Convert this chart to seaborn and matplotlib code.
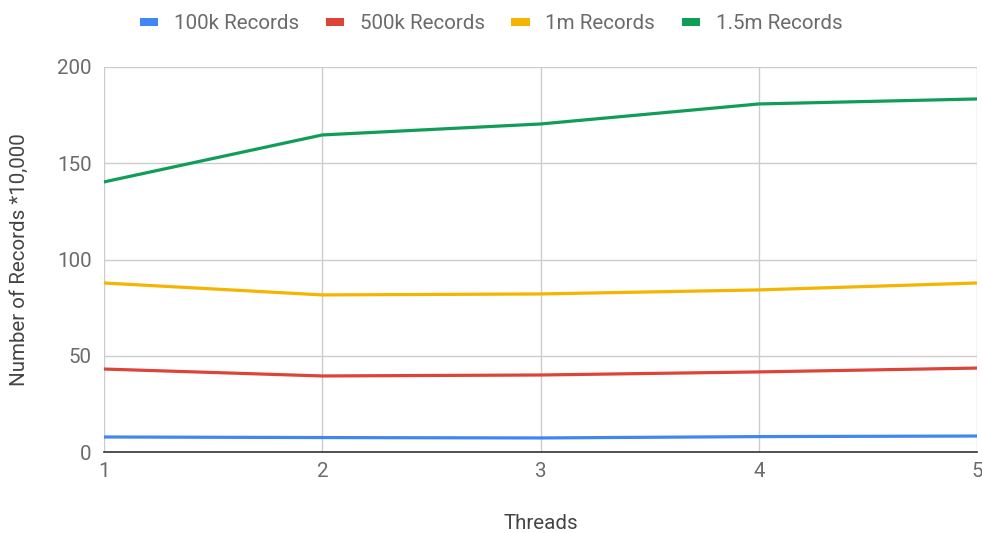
import matplotlib
matplotlib.use("Agg")
import matplotlib.pyplot as plt
from matplotlib.patches import Patch
import seaborn as sns
import pandas as pd

threads = [1, 2, 3, 4, 5]
series_names = ["100k Records", "500k Records", "1m Records", "1.5m Records"]
rec_100k = [7.8, 7.5, 7.3, 8.0, 8.3]
rec_500k = [43.1, 39.5, 40.0, 41.6, 43.6]
rec_1m = [87.8, 81.6, 82.1, 84.2, 87.8]
rec_1_5m = [140.3, 164.7, 170.4, 180.8, 183.4]
colors = ["#4285F4", "#DB4437", "#F4B400", "#0F9D58"]

rows = []
for name, vals in zip(series_names, [rec_100k, rec_500k, rec_1m, rec_1_5m]):
    for t, v in zip(threads, vals):
        rows.append({"Threads": t, "Records": v, "Series": name})
df = pd.DataFrame(rows)

sns.set_theme(style="white")
plt.rcParams["font.family"] = ["Roboto", "DejaVu Sans"]
text_grey = "#6b6b6b"

fig = plt.figure(figsize=(9.82, 5.33), dpi=100)
ax = fig.add_axes([104 / 982, 1 - 452 / 533, 873 / 982, 385 / 533])

sns.lineplot(data=df, x="Threads", y="Records", hue="Series",
             hue_order=series_names, palette=colors, linewidth=2.3,
             legend=False, ax=ax, zorder=3)

ax.set_xlim(1, 5)
ax.set_ylim(0, 200)
ax.set_xticks(threads)
ax.set_yticks([0, 50, 100, 150, 200])
ax.grid(True, color="#cccccc", linewidth=1)
ax.set_axisbelow(True)
for side in ["top", "right", "left"]:
    ax.spines[side].set_visible(False)
ax.spines["bottom"].set_color("#333333")
ax.spines["bottom"].set_linewidth(1.2)
ax.spines["bottom"].set_zorder(4)

ax.tick_params(axis="both", length=0, labelsize=14.8, colors=text_grey)
ax.tick_params(axis="x", pad=7)
ax.tick_params(axis="y", pad=9)
ax.set_xlabel("Threads", fontsize=14.8, color="#444444", labelpad=24)
ax.set_ylabel("Number of Records *10,000", fontsize=14.8, color="#444444", labelpad=20)

handles = [Patch(facecolor=c, edgecolor="none") for c in colors]
fig.legend(handles, series_names, loc="center", bbox_to_anchor=(0.5, 1 - 24 / 533),
           ncol=4, frameon=False, fontsize=14.8, labelcolor=text_grey,
           handlelength=0.9, handleheight=0.28, handletextpad=0.75, columnspacing=1.3)

fig.savefig("out.png", dpi=100, facecolor="white")
